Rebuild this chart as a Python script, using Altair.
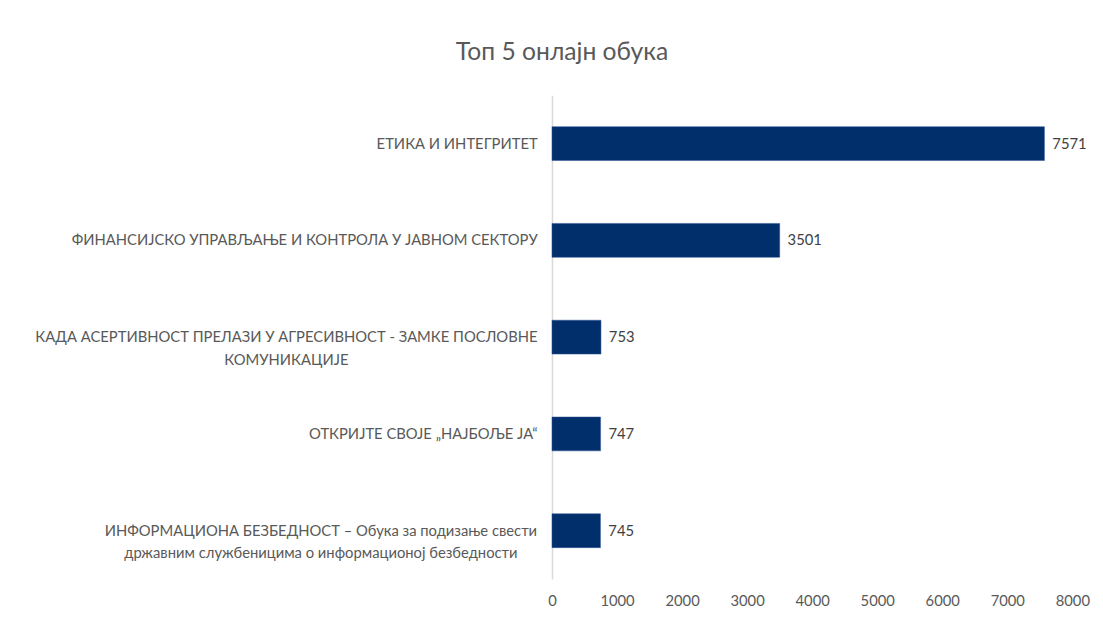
import altair as alt
import pandas as pd

courses = [
    "ЕТИКА И ИНТЕГРИТЕТ",
    "ФИНАНСИЈСКО УПРАВЉАЊЕ И КОНТРОЛА У ЈАВНОМ СЕКТОРУ",
    "КАДА АСЕРТИВНОСТ ПРЕЛАЗИ У АГРЕСИВНОСТ - ЗАМКЕ ПОСЛОВНЕ|КОМУНИКАЦИЈЕ",
    "ОТКРИЈТЕ СВОЈЕ „НАЈБОЉЕ ЈА“",
    "ИНФОРМАЦИОНА БЕЗБЕДНОСТ – Обука за подизање свести|државним службеницима о информационој безбедности",
]
participants = [7571, 3501, 753, 747, 745]
x_ticks = [0, 1000, 2000, 3000, 4000, 5000, 6000, 7000, 8000]

df = pd.DataFrame({"course": courses, "n": participants})

FONT = "Lato"
GRAY = "#595959"

# two-line labels are centred on their longest line (as in the original)
pad3 = 15 + 255
pad5 = 15 + 220
test3 = f"datum.value == '{courses[2]}'"
test5 = f"datum.value == '{courses[4]}'"

y = alt.Y(
    "course:N",
    sort=courses,
    title=None,
    scale=alt.Scale(paddingInner=0.65, paddingOuter=0.325),
    axis=alt.Axis(
        labelExpr="split(datum.label, '|')",
        labelFont=FONT,
        labelFontSize=15,
        labelColor=GRAY,
        labelPadding={"condition": [{"test": test3, "value": pad3},
                                    {"test": test5, "value": pad5}], "value": 15},
        labelAlign={"condition": {"test": f"{test3} || {test5}", "value": "center"},
                    "value": "right"},
        labelLimit=800,
        labelLineHeight=23,
        ticks=False,
        domainColor="#d9d9d9",
        domainWidth=1.5,
        grid=False,
    ),
)

x = alt.X(
    "n:Q",
    title=None,
    scale=alt.Scale(domain=[0, 8000], nice=False),
    axis=alt.Axis(
        values=x_ticks,
        format="d",
        labelFont=FONT,
        labelFontSize=15,
        labelColor=GRAY,
        labelPadding=15,
        labelFlush=False,
        ticks=False,
        domain=False,
        grid=False,
    ),
)

base = alt.Chart(df).encode(y=y, x=x)
bars = base.mark_bar(color="#002f6b", stroke="#2f5597", strokeWidth=0.5)
text = base.mark_text(align="left", dx=8, font=FONT, fontSize=15, color="#404040").encode(
    text="n:Q"
)

chart = (
    alt.layer(bars, text)
    .properties(
        width=528,
        height=491,
        background="white",
        padding={"left": 26, "top": 28, "right": 5, "bottom": 5},
        title=alt.TitleParams(
            "Топ 5 онлајн обука",
            font=FONT,
            fontSize=25,
            fontWeight="normal",
            color=GRAY,
            frame="bounds",
            anchor="middle",
            offset=31,
        ),
    )
    .configure_view(stroke="transparent", strokeWidth=0)
)

chart.save("out.html", embed_options={"renderer": "svg", "actions": False})
